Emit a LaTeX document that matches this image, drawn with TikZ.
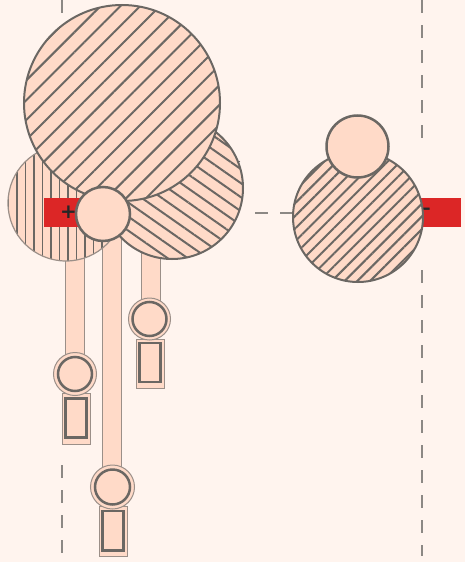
\documentclass[tikz,border=0pt]{standalone}
\usepackage{fontspec}
\newfontfamily\signfont{DejaVu Sans}
\usetikzlibrary{patterns.meta}
\definecolor{bg}{HTML}{FFF4EE}
\definecolor{peach}{HTML}{FFDAC8}
\definecolor{ink}{HTML}{6B6763}
\definecolor{thinc}{HTML}{9B8F88}
\definecolor{redc}{HTML}{DC2626}
\definecolor{dashc}{HTML}{8C8884}
\newcommand{\bigsign}[1]{{\signfont\bfseries\fontsize{20pt}{22pt}\selectfont #1}}
\begin{document}
\begin{tikzpicture}[x=1pt,y=-1pt,
  dashline/.style={draw=dashc,line width=1.2pt,dash pattern=on 13pt off 12pt},
  hatchne/.style={draw=ink,line width=2pt,preaction={fill=peach},pattern={Lines[angle=45,distance=14pt,line width=2pt]},pattern color=ink},
  hatchse/.style={draw=ink,line width=2pt,preaction={fill=peach},pattern={Lines[angle=-35,distance=11.5pt,line width=2pt]},pattern color=ink},
  hatchsm/.style={draw=ink,line width=2pt,preaction={fill=peach},pattern={Lines[angle=45,distance=9pt,line width=2pt]},pattern color=ink},
  hatchv/.style={draw=thinc,line width=1.2pt,preaction={fill=peach},pattern={Lines[angle=90,distance=8.5pt,line width=1.1pt]},pattern color=ink},
  shaft/.style={draw=thinc,line width=1pt,fill=peach},
  ring/.style={draw=ink,line width=2.5pt,fill=peach},
  plain/.style={draw=ink,line width=2.5pt,fill=peach},
  pole/.style={fill=redc},
  signtext/.style={text=black!85,inner sep=0pt}]
\useasboundingbox (0,0) rectangle (465,562);
\fill[bg] (0,0) rectangle (465,562);
% centre lines
\draw[dashline] (62,0) -- (62,150);
\draw[dashline] (62,465) -- (62,554);
\draw[dashline] (422,0) -- (422,140);
\draw[dashline] (422,270) -- (422,556);
\draw[dashline] (255,213) -- (293,213);
\fill[ink] (239.5,161.5) circle (0.7);
% shafts and sensors
\path[shaft] (65,250) rectangle (84,356);
\path[shaft] (62,393) rectangle (90,444);
\path[shaft] (75,374) circle (21.5);
\path[ring] (75,374) circle (17);
\path[plain] (65.5,398.5) rectangle (86.5,437.5);
\path[shaft] (102,235) rectangle (121,468);
\path[shaft] (99,506) rectangle (127,556);
\path[shaft] (112.5,487) circle (22);
\path[ring] (112.5,487) circle (17.5);
\path[plain] (102.5,511) rectangle (123.5,550.5);
\path[shaft] (141,250) rectangle (160,300);
\path[shaft] (136,339) rectangle (164,388);
\path[shaft] (149.5,319) circle (21);
\path[ring] (149.5,319) circle (17);
\path[plain] (139.5,343) rectangle (160.5,382);
% left assembly
\path[hatchv] (66,203) circle (58);
\path[hatchse] (172,188) circle (71);
\path[hatchne] (122,103) circle (98);
\path[pole] (44,198) rectangle (85,227);
\node[signtext] (plus) at (68.5,212) {\bigsign{+}};
\path[plain] (103,214) circle (27);
% right assembly
\path[pole] (415,198) rectangle (461,227);
\node[signtext] (minus) at (423.5,212) {\bigsign{−}};
\path[hatchsm] (358,217) circle (65);
\path[plain] (357.5,146.5) circle (31);
\end{tikzpicture}
\end{document}
